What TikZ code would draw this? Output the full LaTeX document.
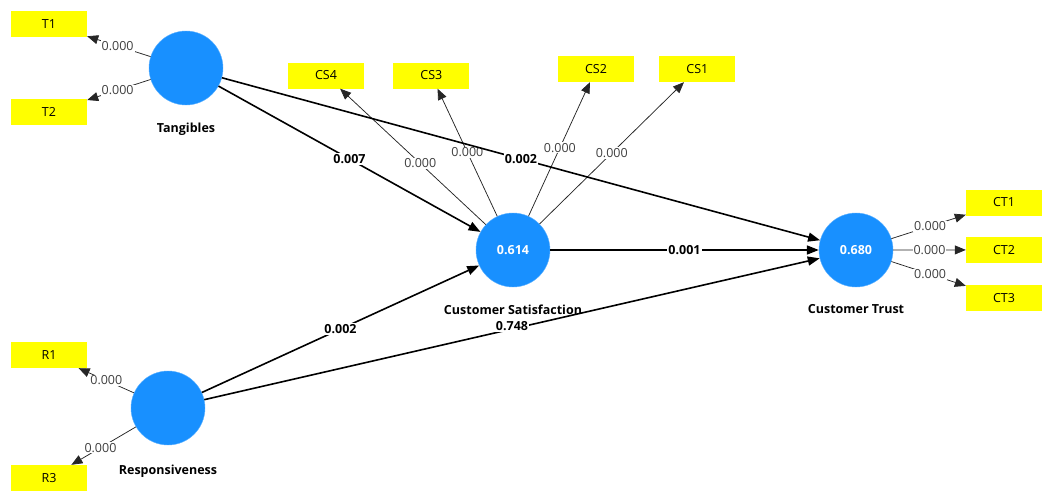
\documentclass[tikz,border=0pt]{standalone}
\usepackage{fontspec}
\setmainfont{Open Sans}
\usetikzlibrary{arrows.meta, positioning}

\definecolor{lvblue}{RGB}{24,144,255}
\definecolor{mvyellow}{RGB}{255,255,0}

\begin{document}
\fontsize{12.5}{14}\selectfont
\begin{tikzpicture}[x=1pt, y=-1pt,
  latent/.style={circle, draw=lvblue!70!white, fill=lvblue, minimum size=74pt, inner sep=0pt, text=white, font=\bfseries},
  indic/.style={rectangle, fill=mvyellow, minimum width=76pt, minimum height=26pt, inner sep=0pt},
  lname/.style={font=\bfseries},
  coef/.style={fill=white, inner sep=1pt, font=\bfseries},
  lval/.style={fill=white, inner sep=1pt, text=black!75},
  arrow/.style={-{Triangle[length=12pt,width=9pt]}, line width=1.6pt},
  load/.style={-{Triangle[length=11pt,width=9pt]}, line width=0.75pt, draw=black!85}
]
\useasboundingbox (0,0) rectangle (1059,490);

% ------------------------------------------------------------
% Latent variables
% ------------------------------------------------------------

\node[latent] (tang) at (186,68) {};
\node[latent] (resp) at (168,408) {};
\node[latent] (csat) at (513,250) {0.614};
\node[latent] (ctrust) at (856,250) {0.680};

\node[lname, below=13pt of tang] {Tangibles};
\node[lname, below=15pt of resp] {Responsiveness};
\node[lname, below=13pt of csat] {Customer Satisfaction};
\node[lname, below=13pt of ctrust] {Customer Trust};

% ------------------------------------------------------------
% Indicators
% ------------------------------------------------------------

\node[indic] (t1) at (49,24) {T1};
\node[indic, below=62pt of t1] (t2) {T2};

\node[indic] (r1) at (49,355) {R1};
\node[indic] (r3) at (49,478) {R3};

\node[indic] (cs4) at (326,75.5) {CS4};
\node[indic, right=29pt of cs4] (cs3) {CS3};
\node[indic] (cs2) at (596,69) {CS2};
\node[indic, right=25pt of cs2] (cs1) {CS1};

\node[indic] (ct1) at (1004,202.5) {CT1};
\node[indic, below=21pt of ct1] (ct2) {CT2};
\node[indic, below=22pt of ct2] (ct3) {CT3};

% ------------------------------------------------------------
% Outer loadings
% ------------------------------------------------------------

\draw[load] (tang) -- node[lval, pos=0.52] {0.000} (t1);
\draw[load] (tang) -- node[lval, pos=0.52] {0.000} (t2);
\draw[load] (resp) -- node[lval, pos=0.5] {0.000} (r1);
\draw[load] (resp) -- node[lval, pos=0.55] {0.000} (r3);

\draw[load] (csat) -- node[lval, pos=0.45] {0.000} (cs4);
\draw[load] (csat) -- node[lval, pos=0.5] {0.000} (cs3);
\draw[load] (csat) -- node[lval, pos=0.51] {0.000} (cs2);
\draw[load] (csat) -- node[lval, pos=0.5] {0.000} (cs1);

\draw[load] (ctrust) -- node[lval, pos=0.52] {0.000} (ct1);
\draw[load] (ctrust) -- node[lval, pos=0.5] {0.000} (ct2);
\draw[load] (ctrust) -- node[lval, pos=0.52] {0.000} (ct3);

% ------------------------------------------------------------
% Inner model
% ------------------------------------------------------------

\draw[arrow] (tang) -- node[coef] {0.007} (csat);
\draw[arrow] (tang) -- node[coef] {0.002} (ctrust);
\draw[arrow] (csat) -- node[coef] {0.001} (ctrust);
\draw[arrow] (resp) -- node[coef] {0.002} (csat);
\draw[arrow] (resp) -- node[coef, yshift=3pt] {0.748} (ctrust);

\end{tikzpicture}
\end{document}
